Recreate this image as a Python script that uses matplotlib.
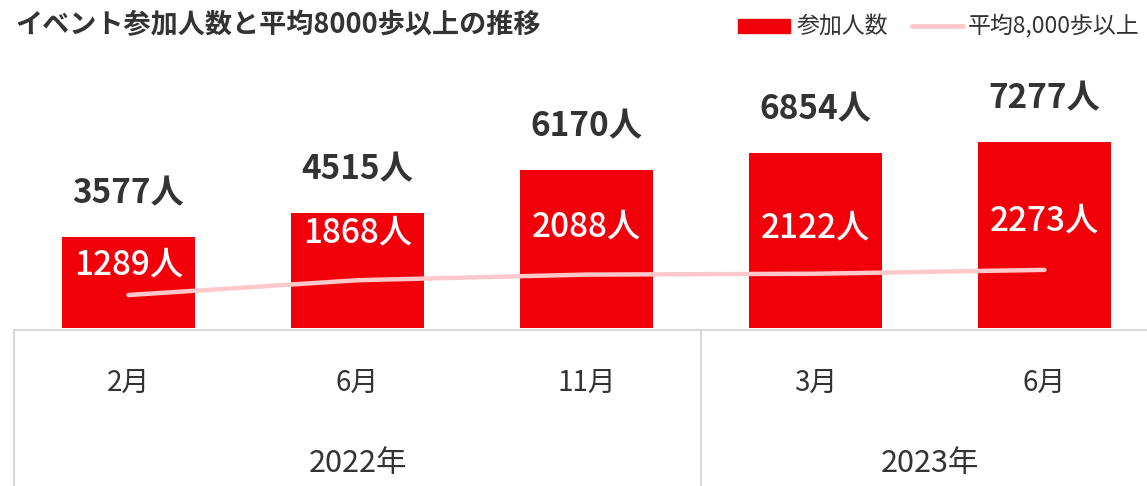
import matplotlib.pyplot as plt
from matplotlib.patches import Rectangle
from matplotlib.lines import Line2D

plt.rcParams['font.family'] = ['Noto Sans CJK JP', 'DejaVu Sans']

# datos
meses = ["2月", "6月", "11月", "3月", "6月"]
anios = ["2022年", "2023年"]
anio_grupos = [(0, 2), (3, 4)]  # indices de inicio y fin de cada año
participantes = [3577, 4515, 6170, 6854, 7277]
promedio_8000 = [1289, 1868, 2088, 2122, 2273]

ROJO = "#F2000A"
ROSA = "#FFC8CA"
TEXTO = "#333333"
GRIS = "#D9D9D9"

W, H = 1147, 486
fig = plt.figure(figsize=(W / 100, H / 100), dpi=100)
# el eje se sale un poco por la derecha, como en la original
ax = fig.add_axes([14 / W, (H - 328) / H, 1145 / W, 278 / H])

x = list(range(len(meses)))
ax.bar(x, participantes, width=0.585, color=ROJO, zorder=2)
ax.plot(x, promedio_8000, color=ROSA, lw=3.2, solid_capstyle="round", zorder=3)

ax.set_xlim(-0.5, len(meses) - 0.5)
ax.set_ylim(0, 10870)
ax.axis("off")

# etiquetas encima de las barras
for xi, v in zip(x, participantes):
    ax.annotate(f"{v}人", (xi, v), xytext=(0, 31), textcoords="offset points",
                ha="center", va="center", fontsize=24, fontweight="bold", color=TEXTO)

# etiquetas de la linea (dentro de la barra)
desplaz = [22, 34, 34, 33, 35]
for xi, v, d in zip(x, promedio_8000, desplaz):
    ax.annotate(f"{v}人", (xi, v), xytext=(0, d), textcoords="offset points",
                ha="center", va="center", fontsize=24, fontweight="medium",
                color="white", zorder=4)

# eje de categorias tipo tabla
trans = ax.get_xaxis_transform()
fondo = -(H - 328) / 278
ax.plot([-0.5, len(meses) - 0.5], [-0.007, -0.007], color=GRIS, lw=1.5,
        transform=trans, clip_on=False)
for xv in [-0.5, 2.5, 4.5]:
    ax.plot([xv, xv], [-0.007, fondo], color=GRIS, lw=1.5,
            transform=trans, clip_on=False)

for xi, m in zip(x, meses):
    ax.text(xi, -0.198, m, transform=trans, ha="center", va="center",
            fontsize=20, color=TEXTO)
for (a, b), nombre in zip(anio_grupos, anios):
    ax.text((a + b) / 2, -0.486, nombre, transform=trans, ha="center", va="center",
            fontsize=22, color=TEXTO)

# titulo
fig.text(15 / W, 1 - 25 / H, "イベント参加人数と平均8000歩以上の推移", ha="left", va="center",
         fontsize=19.5, fontweight="bold", color=TEXTO)

# leyenda manual
fig.patches.append(Rectangle((738 / W, 1 - 33 / H), 52 / W, 14 / H, color=ROJO,
                             transform=fig.transFigure))
fig.text(797 / W, 1 - 26 / H, "参加人数", ha="left", va="center", fontsize=16.5, color=TEXTO)
fig.lines.append(Line2D([912 / W, 963 / W], [1 - 26 / H, 1 - 26 / H], color=ROSA, lw=3.5,
                        solid_capstyle="round", transform=fig.transFigure))
fig.text(968 / W, 1 - 26 / H, "平均8,000歩以上", ha="left", va="center", fontsize=16.5,
         color=TEXTO)

fig.savefig("out.png", dpi=100)
